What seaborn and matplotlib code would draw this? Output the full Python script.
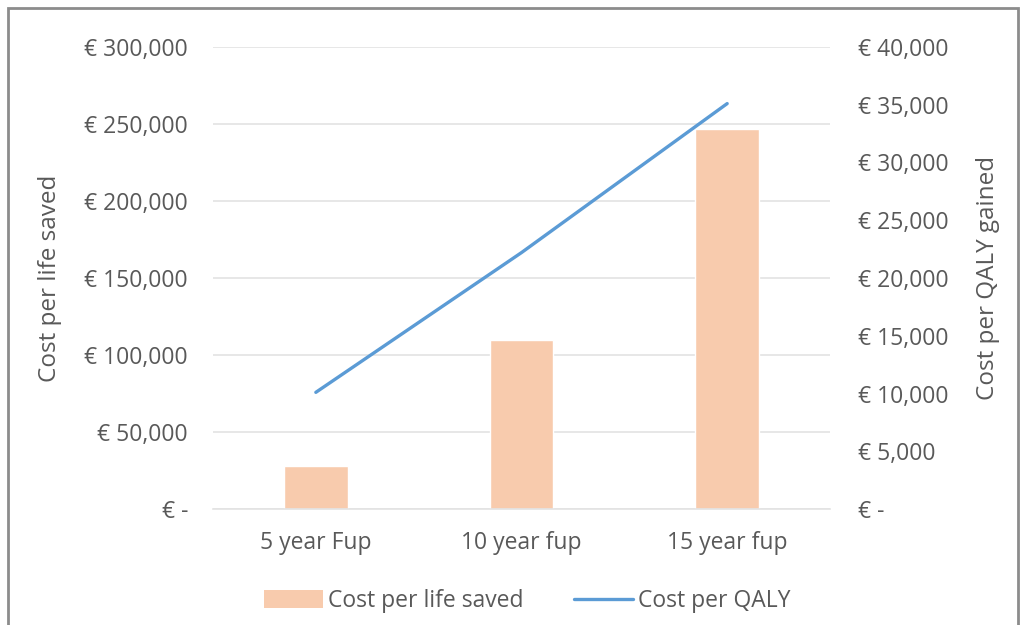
import numpy as np
import pandas as pd
import matplotlib
matplotlib.use("Agg")
import matplotlib.pyplot as plt
import seaborn as sns
from matplotlib.ticker import FuncFormatter, MultipleLocator
from matplotlib.patches import Rectangle, Patch
from matplotlib.lines import Line2D

# data
categories = ["5 year Fup", "10 year fup", "15 year fup"]
cost_per_life_saved = [28000, 110000, 246500]
cost_per_qaly = [10100, 22200, 35100]

BAR_COLOR = "#F8CBAD"
LINE_COLOR = "#5B9BD5"
TEXT_COLOR = "#595959"
GRID_COLOR = "#E3E3E3"
FS = 16.5

sns.set_theme(style="white")
plt.rcParams["font.family"] = ["Open Sans", "DejaVu Sans"]

df = pd.DataFrame({"cat": categories,
                   "life": cost_per_life_saved,
                   "qaly": cost_per_qaly})

fig = plt.figure(figsize=(10.26, 6.25), dpi=100)
ax = fig.add_axes([213 / 1026, 1 - 509 / 625, (830 - 213) / 1026, (509 - 47) / 625])

sns.barplot(data=df, x="cat", y="life", color=BAR_COLOR, width=0.31,
            saturation=1, ax=ax, zorder=2)
ax.set_ylim(0, 300000)
ax.yaxis.set_major_locator(MultipleLocator(50000))
ax.set_xlim(-0.5, 2.5)

ax2 = ax.twinx()
sns.lineplot(data=df, x="cat", y="qaly", color=LINE_COLOR, linewidth=2.4,
             ax=ax2, sort=False)
ax2.set_ylim(0, 40000)
ax2.yaxis.set_major_locator(MultipleLocator(5000))
ax2.set_xlim(-0.5, 2.5)

fmt = FuncFormatter(lambda v, p: "€ -" if v == 0 else f"€ {v:,.0f}")
ax.yaxis.set_major_formatter(fmt)
ax2.yaxis.set_major_formatter(fmt)

ax.grid(axis="y", color=GRID_COLOR, linewidth=1.2, zorder=0)
ax.set_axisbelow(True)
for a in (ax, ax2):
    for s in a.spines.values():
        s.set_visible(False)
ax.spines["bottom"].set_visible(True)
ax.spines["bottom"].set_color(GRID_COLOR)
ax.spines["bottom"].set_linewidth(1.2)

ax.tick_params(axis="y", length=0, pad=18, labelsize=FS, labelcolor=TEXT_COLOR)
ax2.tick_params(axis="y", length=0, pad=20, labelsize=FS, labelcolor=TEXT_COLOR)
ax.tick_params(axis="x", length=0, pad=16, labelsize=FS, labelcolor=TEXT_COLOR)

ax.set_xlabel("")
ax.set_ylabel("")
ax2.set_ylabel("")
fig.text(50 / 1026, 1 - 278 / 625, "Cost per life saved", rotation=90,
         ha="center", va="center", fontsize=17.5, color=TEXT_COLOR)
fig.text(988 / 1026, 1 - 278 / 625, "Cost per QALY gained", rotation=90,
         ha="center", va="center", fontsize=17.5, color=TEXT_COLOR)

handles = [Patch(facecolor=BAR_COLOR, edgecolor="none"),
           Line2D([0], [0], color=LINE_COLOR, linewidth=2.4)]
fig.legend(handles, ["Cost per life saved", "Cost per QALY"],
           loc="center", bbox_to_anchor=(527 / 1026, 1 - 601 / 625),
           ncol=2, frameon=False, fontsize=FS, labelcolor=TEXT_COLOR,
           handlelength=2.6, handleheight=0.8, handletextpad=0.2,
           columnspacing=2.2)

# outer frame of the original chart
fig.patches.append(Rectangle((8 / 1026, -0.05), (1018 - 8) / 1026, 1.05 - 8 / 625,
                             transform=fig.transFigure, fill=False,
                             edgecolor="#8C8C8C", linewidth=2))

fig.savefig("out.png", dpi=100, facecolor="white")
